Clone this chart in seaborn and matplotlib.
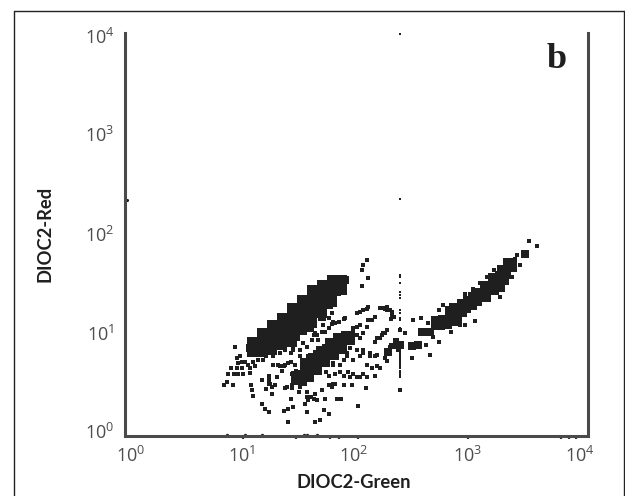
import numpy as np
import pandas as pd
import matplotlib
matplotlib.use('Agg')
import matplotlib.pyplot as plt
from matplotlib.lines import Line2D
from matplotlib.transforms import ScaledTranslation
import seaborn as sns

# all gate values are log10 of the channel reading
core_x = [1.138, 1.224, 1.311, 1.397, 1.484, 1.570, 1.657, 1.743,
          1.224, 1.311, 1.397, 1.484, 1.570, 1.657, 1.743, 1.829,
          1.354, 1.527, 1.613, 1.70]
core_y = [0.885, 0.968, 1.051, 1.117, 1.217, 1.30, 1.399, 1.449,
          0.902, 0.952, 0.985, 1.10, 1.167, 1.267, 1.383, 1.50,
          1.051, 1.20, 1.283, 1.399]

band_x = [1.498, 1.570, 1.570, 1.642, 1.642, 1.714, 1.714, 1.786, 1.786, 1.858, 1.858, 1.93,
          2.707, 2.765, 2.823, 2.895, 2.98, 3.053, 3.125, 3.168, 3.197, 3.255, 3.27, 3.327,
          2.85, 2.93, 3.02, 3.10, 3.22]
band_y = [0.571, 0.604, 0.704, 0.670, 0.753, 0.753, 0.82, 0.82, 0.902, 0.886, 0.952, 0.968,
          1.117, 1.134, 1.217, 1.25, 1.316, 1.399, 1.465, 1.465, 1.548, 1.565, 1.631, 1.697,
          1.16, 1.29, 1.36, 1.40, 1.50]

mid_x = [1.08, 1.12, 1.20, 1.30, 1.38, 1.47, 1.56, 1.64, 1.73, 1.80, 1.86, 1.90,
         1.10, 1.22, 1.34, 1.48, 1.60, 1.70, 1.76, 1.79, 1.83, 1.86,
         1.48, 1.54, 1.60, 1.66, 1.71, 1.77, 1.83, 1.89, 1.945,
         1.51, 1.57, 1.63, 1.685, 1.74, 1.80, 1.86, 1.54,
         2.275, 2.376, 2.477, 2.535, 2.563, 2.635, 2.707, 2.75, 2.794, 2.88,
         2.94, 3.01, 3.07, 3.125, 3.183, 3.197, 3.255, 3.31, 3.456]
mid_y = [0.87, 0.92, 0.98, 1.05, 1.15, 1.23, 1.33, 1.42, 1.48, 1.50, 1.55, 1.55,
         0.84, 0.84, 0.90, 0.985, 1.07, 1.18, 1.30, 1.40, 1.43, 1.48,
         0.555, 0.59, 0.62, 0.69, 0.77, 0.84, 0.90, 0.97, 1.00,
         0.62, 0.67, 0.74, 0.80, 0.87, 0.935, 0.98, 0.54,
         0.835, 0.90, 0.89, 0.90, 1.035, 1.035, 1.10, 1.117, 1.15, 1.25,
         1.30, 1.33, 1.40, 1.45, 1.515, 1.565, 1.61, 1.68, 1.81]

fine_x = [.95, .965, .99, 1.01, .98, 1.04, 1.065, 1.11, 1.15, 1.195,
          .92, .965, 1.01, 1.08, 1.12, .89, .94, .98, 1.02, 1.08,
          .88, .855, .93, 1.085, 1.095, 1.11, 1.18, 1.24, 1.31, 1.24,
          1.22, 1.27, 1.30, 1.325, 1.37, 1.41, 1.355, 1.28, 1.455, 1.51,
          1.57, 1.64, 1.43, 1.51, 1.585, 1.67, 1.63, 1.73, 1.785, 1.845,
          1.90, 2.00, 2.06, 2.10, 2.20, 2.26, 2.305, 2.295, 1.97, 2.03,
          2.10, 2.16, 2.25, 2.20, 2.16, 2.35, 2.32, 2.29, 2.25, 2.175,
          2.12, 2.06, 2.00, 1.945, 1.915, 1.97, 2.03, 2.09, 2.13, 2.175,
          1.97, 2.03, 2.09, 2.16, 1.86, 1.80, 1.74, 1.815, 1.89, 1.945,
          1.44, 1.38, 1.50, 1.57, 1.64, 1.585, 1.555, 1.63, 1.655, 1.83,
          1.87, 1.73, 1.76, 1.80, 1.70, 1.89, 1.96, 2.08, 2.01, 1.715,
          1.76, 1.685, 1.64, 1.41, 1.18, 1.21, 1.24, 1.37, 1.41, 1.455,
          1.57, 2.09, 2.06, 2.045, 2.10, 2.045, 1.785, 1.80, 1.43, 1.51,
          3.49, 3.56, 3.41, 3.385, 3.37, 3.34, 3.24, 3.02, 2.94, 2.895,
          2.82, 2.71, 2.60, 2.635, 2.48, 2.49, 2.56, 2.71, 2.75, 2.82,
          2.94, 3.01, 3.07, 3.125, 3.185, 2.62, 2.665, 2.376, 2.26, 2.20,
          2.23, 2.32, 2.29, 2.25, 2.376, 2.42, 2.33, 2.30,
          1.22, 1.28, 1.34, 1.38, 1.455, 1.54, 1.615, 1.66, 1.70, 1.76,
          1.64, 1.71, 1.76, 1.815, 1.89,
          1.34, 1.38, 1.43, 1.47, 1.44, 1.48, 1.24, 1.27, 1.25, 1.40,
          1.44, 1.57, 1.61, 1.785, 1.815,
          1.97, 2.00, 2.03, 2.06, 2.09, 2.13, 2.00, 2.175, 2.22, 2.26,
          1.915, 1.89, 2.12, 2.16, 2.06, 2.275, 2.305, 2.335, 2.36, 2.29,
          2.35, 1.685, 1.74, 1.80, 1.76, 1.86, 1.93, 2.00, 2.06,
          2.26, 2.305, 2.23, 2.03, 2.09]
fine_y = [.88, .77, .79, .735, .72, .735, .70, .735, .75, .75,
          .67, .67, .67, .67, .69, .615, .615, .615, .615, .63,
          .54, .505, .505, .505, .455, .40, .56, .60, .59, .52,
          .47, .42, .505, .70, .69, .72, .65, .70, .85, .85,
          .885, .835, .82, .79, .79, .95, 1.00, 1.03, 1.11, 1.13,
          1.17, 1.22, 1.25, 1.28, 1.27, 1.25, 1.20, 1.16, 1.07, 1.10,
          1.15, 1.18, 1.02, .97, .935, .95, .885, .82, .77, .80,
          .82, .82, .85, .87, .79, .75, .79, .70, .67, .69,
          .62, .59, .59, .60, .70, .70, .64, .62, .60, .59,
          .505, .48, .44, .44, .42, .36, .32, .37, .36, .37,
          .37, .37, .505, .52, .455, .505, .505, .48, .30, .26,
          .22, .16, .135, .135, .32, .27, .24, .25, .27, .29,
          .24, 1.75, 1.70, 1.65, 1.565, 1.49, 1.22, 1.13, .37, .49,
          1.94, 1.885, 1.70, 1.80, 1.76, 1.58, 1.38, 1.14, 1.10, 1.10,
          1.035, .935, .90, .80, .77, 1.15, 1.17, 1.25, 1.30, 1.30,
          1.41, 1.455, 1.515, 1.58, 1.65, 1.117, .985, .455, .74, .67,
          1.02, 1.18, 1.25, 1.265, 1.05, 1.02, .95, .90,
          .79, .79, .82, .85, .885, .92, .95, 1.00, 1.03, 1.07,
          1.02, 1.10, 1.17, 1.125, 1.16,
          .69, .70, .735, .70, .62, .65, .555, .49, .52, .49,
          .48, .39, .39, .49, .52,
          1.03, 1.00, .97, 1.02, 1.085, 1.15, 1.085, .97, 1.00, 1.05,
          .82, .75, .79, .79, .85, .85, .885, .92, .85, .885,
          .90, .69, .72, .72, .60, .64, .64, .59, .62,
          1.28, 1.235, 1.27, 1.235, 1.26]

# events piled on one green channel, plus the strays
stack_y = [.59, .61, .63, .65, .67, .69, .71, .73, .75, .77, .79, .81, .83, .85,
           1.05, 1.07, 1.15, 1.17, 1.22, 1.25, 1.37, 1.40, 1.43, 1.515, 1.58, 1.60,
           2.35, 3.99]
stack_channel = 2.376
stray_x = [0.02]
stray_y = [2.34]

# events sitting on the bottom axis
floor_x = [.88, 1.04, 1.18, 1.55, 1.57, 1.66]
floor_y = [.01, .01, .01, .01, .01, .01]

major_ticks = [1, 10, 100, 1000, 10000]
major_labels = ['10$^{0}$', '10$^{1}$', '10$^{2}$', '10$^{3}$', '10$^{4}$']
x_marks = [1.02, 1.48, 1.77, 1.85, 2.01, 2.96, 3.0, 3.77, 3.84, 3.90]
y_marks = [1, 2, 4]

sns.set_style('white')
plt.rcParams['font.family'] = ['Open Sans', 'DejaVu Sans']
plt.rcParams['mathtext.default'] = 'regular'

fig = plt.figure(figsize=(6.25, 4.96), dpi=100)
ax = fig.add_axes([125 / 625, 60 / 496, 463 / 625, 403 / 496])

ink = '#1f1f1f'


def draw(xs, ys, size, marker='s', clip=True):
    df = pd.DataFrame({'x': 10 ** np.array(xs, dtype=float), 'y': 10 ** np.array(ys, dtype=float)})
    sns.scatterplot(data=df, x='x', y='y', ax=ax, s=size, color=ink, marker=marker,
                    linewidth=0, clip_on=clip, legend=False)


draw(core_x, core_y, 200)
draw(band_x, band_y, 95)
draw(mid_x, mid_y, 33)
draw(fine_x, fine_y, 12)
draw([stack_channel] * len(stack_y), stack_y, 4)
draw(stray_x, stray_y, 5, marker='o', clip=False)
draw(floor_x, floor_y, 6, marker='o', clip=False)

ax.set_xscale('log')
ax.set_yscale('log')
ax.set_xlim(1, 10000)
ax.set_ylim(1, 10000)
ax.set_xticks(major_ticks)
ax.set_yticks(major_ticks)
ax.set_xticklabels(major_labels)
ax.set_yticklabels(major_labels)
ax.set_xticks(10 ** np.array(x_marks), minor=True)
ax.set_yticks(10 ** np.array(y_marks, dtype=float), minor=True)
ax.set_xticklabels([], minor=True)
ax.set_yticklabels([], minor=True)
ax.tick_params(which='major', length=0, labelsize=13, labelcolor='#4d4d4d', pad=6)
ax.tick_params(which='minor', length=2.5, width=1.6, color='#333333')
ax.tick_params(axis='both', which='both', bottom=True, left=True)

# tick labels in the source sit a little off their ticks
x_nudge = [6, 1, -3, -5, -8]
y_nudge = [5, 2, 1, 0, -3]
for lab, dx in zip(ax.get_xticklabels(), x_nudge):
    lab.set_transform(lab.get_transform() + ScaledTranslation(dx / 100, -2 / 100, fig.dpi_scale_trans))
for lab, dy in zip(ax.get_yticklabels(), y_nudge):
    lab.set_transform(lab.get_transform() + ScaledTranslation(-2 / 100, dy / 100, fig.dpi_scale_trans))

for side in ['left', 'bottom', 'right']:
    ax.spines[side].set_visible(True)
    ax.spines[side].set_linewidth(2.2)
    ax.spines[side].set_color('#4a4a4a')
ax.spines['top'].set_visible(False)

ax.set_xlabel('DIOC2-Green', fontsize=13.2, fontweight='bold', color=ink, labelpad=3,
              family=['Lato', 'DejaVu Sans'])
ax.set_ylabel('DIOC2-Red', fontsize=13.2, fontweight='bold', color=ink,
              family=['Lato', 'DejaVu Sans'])
ax.xaxis.set_label_coords((354 - 125) / 463, (436 - 482) / 403)
ax.xaxis.label.set_verticalalignment('center')
ax.yaxis.set_label_coords((45 - 125) / 463, (436 - 234) / 403)
ax.yaxis.label.set_verticalalignment('center')
ax.text(0.933, 0.935, 'b', transform=ax.transAxes, fontsize=26, fontweight='bold', color=ink,
        family='Liberation Serif', ha='center', va='center')

# panel frame, open along the bottom edge of the image
frame_kw = dict(color='#222222', linewidth=1.0, transform=fig.transFigure)
fig.add_artist(Line2D([13.5 / 625, 13.5 / 625], [0, 1 - 11 / 496], **frame_kw))
fig.add_artist(Line2D([13.5 / 625, 624 / 625], [1 - 11 / 496, 1 - 11 / 496], **frame_kw))
fig.add_artist(Line2D([624 / 625, 624 / 625], [0, 1 - 11 / 496], **frame_kw))

fig.savefig('out.png', dpi=100)
